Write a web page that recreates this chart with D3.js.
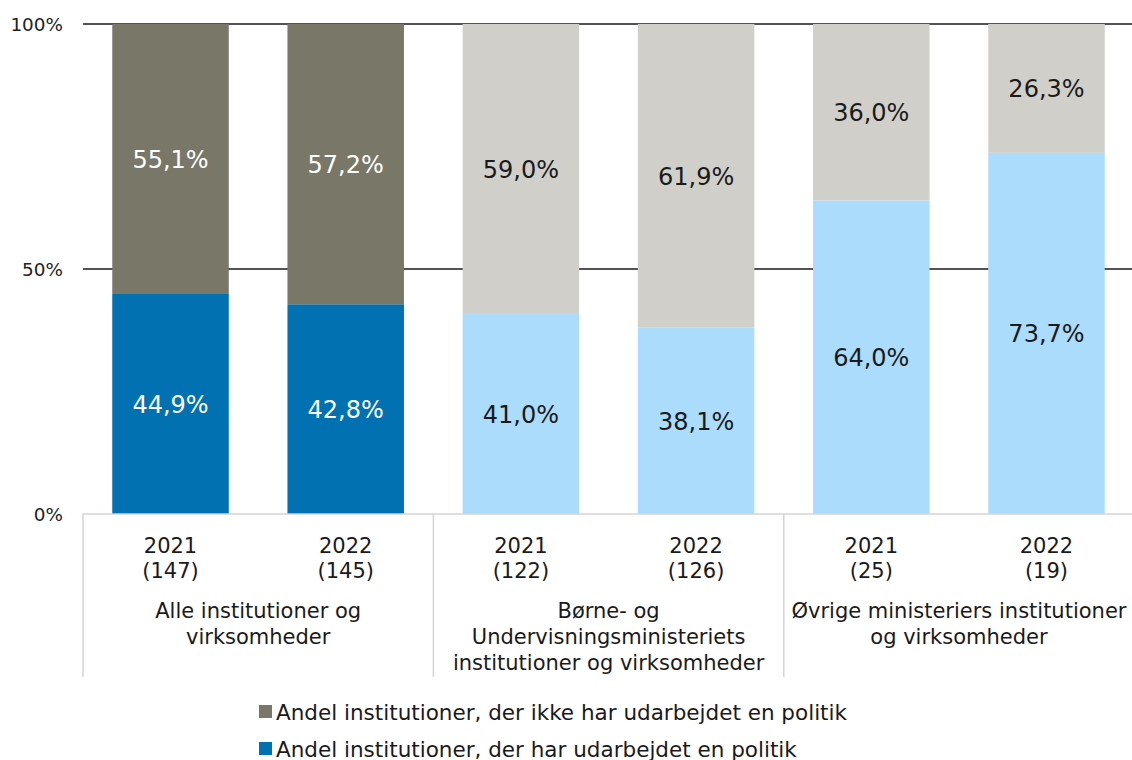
<!DOCTYPE html>
<html>
<head>
<meta charset="utf-8">
<script src="https://cdn.jsdelivr.net/npm/d3@7"></script>
<style>
  body { margin: 0; background: #fff; }
  svg { display: block; font-family: "DejaVu Sans", Verdana, sans-serif; }
</style>
</head>
<body>
<div id="chart"></div>
<script>
// data
const years = ['2021', '2022', '2021', '2022', '2021', '2022'];
const counts = ['(147)', '(145)', '(122)', '(126)', '(25)', '(19)'];
const groups = [
  ['Alle institutioner og', 'virksomheder'],
  ['Børne- og', 'Undervisningsministeriets', 'institutioner og virksomheder'],
  ['Øvrige ministeriers institutioner', 'og virksomheder']
];
const hasPolicy = [44.9, 42.8, 41.0, 38.1, 64.0, 73.7];
const noPolicy = [55.1, 57.2, 59.0, 61.9, 36.0, 26.3];
const yTicks = [0, 50, 100];
const legendLabels = [
  'Andel institutioner, der ikke har udarbejdet en politik',
  'Andel institutioner, der har udarbejdet en politik'
];

// colours: first group is dark, the others light
const darkBlue = '#0271b1', darkGrey = '#797868';
const lightBlue = '#acdcfb', lightGrey = '#d0cfca';

const width = 1132, height = 760;
const plot = { left: 83, right: 1134, top: 24, bottom: 514 };

const svg = d3.select('#chart').append('svg')
  .attr('width', width).attr('height', height);

const x = d3.scaleBand()
  .domain(d3.range(years.length))
  .range([plot.left, plot.right])
  .paddingInner(0.335)
  .paddingOuter(0.167);

const y = d3.scaleLinear().domain([0, 100]).range([plot.bottom, plot.top]);

// grid lines
svg.append('g').selectAll('line')
  .data(yTicks.filter(d => d > 0))
  .join('line')
  .attr('x1', plot.left).attr('x2', width)
  .attr('y1', d => y(d)).attr('y2', d => y(d))
  .attr('stroke', '#1a1a1a').attr('stroke-width', 1.5);

// y tick labels
svg.append('g').selectAll('text')
  .data(yTicks)
  .join('text')
  .attr('x', 63).attr('y', d => y(d) + 6.5)
  .attr('text-anchor', 'end')
  .attr('font-size', 18.4).attr('fill', '#222')
  .text(d => d + '%');

// bars
const isDark = i => i < 2;
const bars = svg.append('g');
hasPolicy.forEach((v, i) => {
  const bx = x(i), bw = x.bandwidth();
  bars.append('rect')
    .attr('x', bx).attr('width', bw)
    .attr('y', y(v)).attr('height', y(0) - y(v))
    .attr('fill', isDark(i) ? darkBlue : lightBlue);
  bars.append('rect')
    .attr('x', bx).attr('width', bw)
    .attr('y', y(v + noPolicy[i])).attr('height', y(v) - y(v + noPolicy[i]))
    .attr('fill', isDark(i) ? darkGrey : lightGrey);
});

// value labels
const fmt = v => v.toFixed(1).replace('.', ',') + '%';
const labels = svg.append('g')
  .attr('text-anchor', 'middle')
  .attr('font-size', 24);
hasPolicy.forEach((v, i) => {
  const cx = x(i) + x.bandwidth() / 2;
  const col = isDark(i) ? '#fff' : '#1a1a1a';
  labels.append('text')
    .attr('x', cx).attr('y', y(v / 2) + 9)
    .attr('fill', col).text(fmt(v));
  labels.append('text')
    .attr('x', cx).attr('y', y(v + noPolicy[i] / 2) + 9)
    .attr('fill', col).text(fmt(noPolicy[i]));
});

// baseline and group separators
svg.append('line')
  .attr('x1', plot.left).attr('x2', width)
  .attr('y1', plot.bottom).attr('y2', plot.bottom)
  .attr('stroke', '#d4d4d4').attr('stroke-width', 1.5);

const step = x.step();
const groupStart = g => plot.left + g * 2 * step;
svg.append('g').selectAll('line')
  .data(d3.range(groups.length))
  .join('line')
  .attr('x1', d => groupStart(d)).attr('x2', d => groupStart(d))
  .attr('y1', plot.bottom).attr('y2', 677)
  .attr('stroke', '#d4d4d4').attr('stroke-width', 1.5);

// category labels
const cat = svg.append('g')
  .attr('text-anchor', 'middle')
  .attr('font-size', 21).attr('fill', '#1a1a1a');
years.forEach((yr, i) => {
  const cx = x(i) + x.bandwidth() / 2;
  cat.append('text').attr('x', cx).attr('y', 553).text(yr);
  cat.append('text').attr('x', cx).attr('y', 578).text(counts[i]);
});

groups.forEach((lines, g) => {
  const cx = groupStart(g) + step;
  lines.forEach((t, k) => {
    cat.append('text')
      .attr('x', cx).attr('y', 618 + k * 26)
      .text(t);
  });
});

// legend
const legend = svg.append('g').attr('font-size', 21.5).attr('fill', '#1a1a1a');
[darkGrey, darkBlue].forEach((c, k) => {
  const ly = 712 + k * 37;
  legend.append('rect')
    .attr('x', 259).attr('y', ly - 7).attr('width', 13).attr('height', 13)
    .attr('fill', c);
  legend.append('text')
    .attr('x', 276).attr('y', ly + 7.5)
    .text(legendLabels[k]);
});
</script>
</body>
</html>
